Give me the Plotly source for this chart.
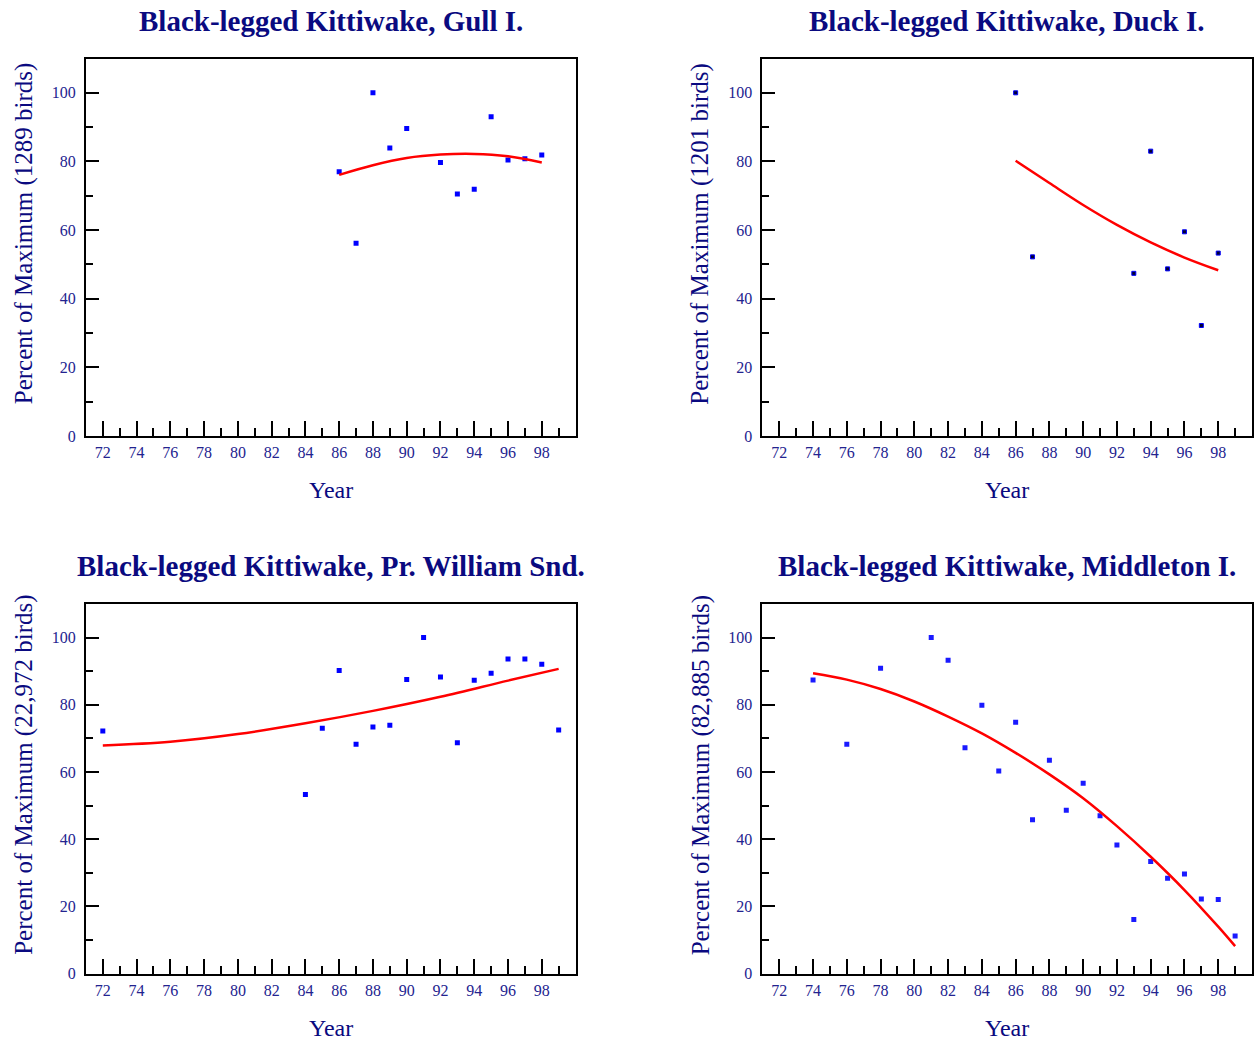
import plotly.graph_objects as go

W, H = 1254, 1041          # reference picture size (positions are measured in it)
FIG_H = 1050               # figure height that maps onto the captured picture

# ---- data ----
gull_years = [86, 87, 88, 89, 90, 92, 93, 94, 95, 96, 97, 98]
gull_pct = [77.0, 56.2, 100, 83.9, 89.6, 79.7, 70.5, 71.9, 93.0, 80.4, 80.8, 81.9]
gull_fit_years = [86, 88, 90, 92, 94, 96, 98]
gull_fit_pct = [76.1, 78.9, 81.0, 82.0, 82.2, 81.5, 79.7]

duck_years = [86, 87, 93, 94, 95, 96, 97, 98]
duck_pct = [100, 52.2, 47.4, 83.0, 48.7, 59.5, 32.2, 53.3]
duck_fit_years = [86, 88, 90, 92, 94, 96, 98]
duck_fit_pct = [80.2, 73.7, 67.3, 61.5, 56.4, 52.0, 48.3]

pws_years = [72, 84, 85, 86, 87, 88, 89, 90, 91, 92, 93, 94, 95, 96, 97, 98, 99]
pws_pct = [72.2, 53.3, 73.0, 90.2, 68.3, 73.4, 73.9, 87.5, 100, 88.3, 68.7, 87.3, 89.4, 93.6, 93.6, 92.1, 72.5]
pws_fit_years = [72, 76, 80, 84, 88, 92, 96, 99]
pws_fit_pct = [67.9, 69.0, 71.3, 74.5, 78.2, 82.4, 87.2, 90.7]

mid_years = [74, 76, 78, 81, 82, 83, 84, 85, 86, 87, 88, 89, 90, 91, 92, 93, 94, 95, 96, 97, 98, 99]
mid_pct = [87.4, 68.3, 90.9, 100, 93.3, 67.2, 79.9, 60.3, 74.8, 45.8, 63.5, 48.6, 56.7, 47.0,
           38.3, 16.1, 33.4, 28.4, 29.7, 22.2, 22.1, 11.2]
mid_fit_years = [74, 76, 78, 80, 82, 84, 86, 88, 90, 92, 94, 96, 98, 99]
mid_fit_pct = [89.4, 87.5, 84.7, 81.0, 76.5, 71.5, 65.7, 59.3, 52.2, 43.9, 34.8, 24.9, 14.0, 8.2]

titles = ["Black-legged Kittiwake, Gull I.", "Black-legged Kittiwake, Duck I.",
          "Black-legged Kittiwake, Pr. William Snd.", "Black-legged Kittiwake, Middleton I."]
ytitles = ["Percent of Maximum (1289 birds)", "Percent of Maximum (1201 birds)",
           "Percent of Maximum (22,972 birds)", "Percent of Maximum (82,885 birds)"]

x_major = list(range(72, 100, 2))
x_minor = list(range(73, 100, 2))
y_major = [0, 20, 40, 60, 80, 100]
y_minor = [10, 30, 50, 70, 90]

# ---- layout geometry (pixels in the reference) ----
cols = [(86, 576), (763, 1253)]
rows = [(58.5, 436), (604, 973.7)]

FONT = "Liberation Serif, Times New Roman, serif"
NAVY = "#0a0a80"
TICKC = "#23238f"

fig = go.Figure()

series = [
    (gull_years, gull_pct, gull_fit_years, gull_fit_pct, dict(color="#0000ff", size=5, symbol="square")),
    (duck_years, duck_pct, duck_fit_years, duck_fit_pct,
     dict(color="#000033", size=4, symbol="square", line=dict(color="#0000ff", width=1))),
    (pws_years, pws_pct, pws_fit_years, pws_fit_pct, dict(color="#0000ff", size=5, symbol="square")),
    (mid_years, mid_pct, mid_fit_years, mid_fit_pct, dict(color="#1a1aff", size=5, symbol="square")),
]

annotations = []
for i, (xs, ys, fx, fy, mk) in enumerate(series):
    r, c = divmod(i, 2)
    x0, x1 = cols[c]
    y0, y1 = rows[r]
    n = "" if i == 0 else str(i + 1)
    xa, ya = "x" + n, "y" + n
    fig.add_trace(go.Scatter(x=xs, y=ys, mode="markers", marker=mk, xaxis=xa, yaxis=ya,
                             showlegend=False, hoverinfo="x+y"))
    fig.add_trace(go.Scatter(x=fx, y=fy, mode="lines", line=dict(color="#ff0000", width=2.5, shape="spline"),
                             xaxis=xa, yaxis=ya, showlegend=False, hoverinfo="skip"))
    common = dict(showline=True, linecolor="black", linewidth=2, mirror=True, showgrid=False,
                  zeroline=False, ticks="inside", tickwidth=2, tickcolor="black",
                  tickfont=dict(family=FONT, size=16, color=TICKC))
    fig.layout["xaxis" + n] = dict(
        domain=[x0 / W, x1 / W], range=[71, 100], anchor=ya, tickmode="array",
        tickvals=x_major, ticktext=[str(v) for v in x_major], ticklen=15, ticklabelstandoff=1,
        minor=dict(tickvals=x_minor, ticks="inside", ticklen=8, tickwidth=2, tickcolor="black"),
        **common)
    fig.layout["yaxis" + n] = dict(
        domain=[1 - y1 / H, 1 - y0 / H], range=[0, 110], anchor=xa, tickmode="array",
        tickvals=y_major, ticktext=[str(v) for v in y_major], ticklen=13, ticklabelstandoff=5,
        minor=dict(tickvals=y_minor, ticks="inside", ticklen=7, tickwidth=2, tickcolor="black"),
        **common)
    cx = (x0 + x1) / 2
    annotations.append(dict(text="<b>" + titles[i] + "</b>", x=cx / W, y=1 - (y0 - 38) / H,
                            xref="paper", yref="paper", xanchor="center", yanchor="middle",
                            showarrow=False, font=dict(family=FONT, size=29, color=NAVY)))
    annotations.append(dict(text="Year", x=cx / W, y=1 - (y1 + 54) / H, xref="paper", yref="paper",
                            xanchor="center", yanchor="middle", showarrow=False,
                            font=dict(family=FONT, size=24, color=NAVY)))
    annotations.append(dict(text=ytitles[i], x=(x0 - 62) / W, y=1 - ((y0 + y1) / 2 - 14) / H,
                            xref="paper", yref="paper", xanchor="center", yanchor="middle",
                            textangle=-90, showarrow=False,
                            font=dict(family=FONT, size=25, color=NAVY)))

fig.update_layout(width=W, height=FIG_H, margin=dict(l=0, r=0, t=0, b=0),
                  paper_bgcolor="white", plot_bgcolor="white",
                  annotations=annotations, showlegend=False)

fig.write_html("out.html", config={"displayModeBar": False},
               post_script="document.body.style.margin='0';document.body.style.padding='0';")
